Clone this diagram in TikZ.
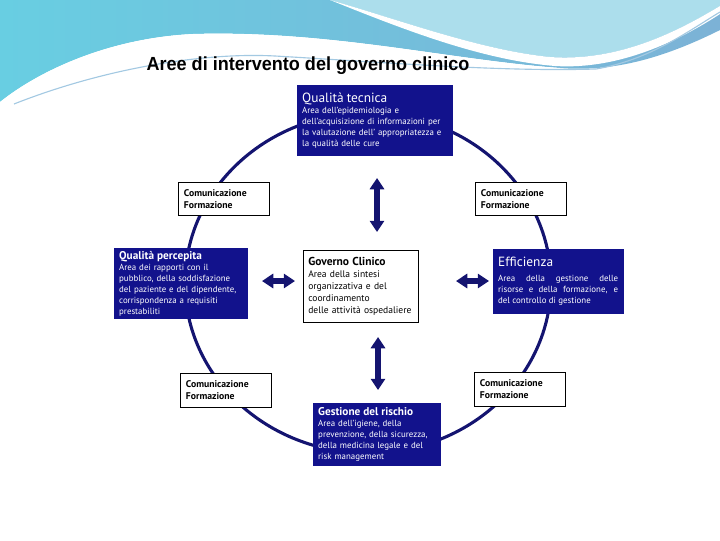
\documentclass[tikz,border=0pt]{standalone}
\usepackage{fontspec}
\setmainfont{PT Sans}
\newfontfamily\headfont{Liberation Sans}
\usetikzlibrary{arrows.meta,calc}
\definecolor{gcnavy}{RGB}{18,18,140}
\definecolor{gcring}{RGB}{20,20,112}
\definecolor{gccyan}{RGB}{104,206,226}
\definecolor{gcsky}{RGB}{124,178,214}
\definecolor{gcpale}{RGB}{172,222,236}
\definecolor{gcmid}{RGB}{140,190,226}

\begin{document}
\begin{tikzpicture}[x=0.025cm,y=-0.025cm,
  area/.style={draw=gcnavy,fill=gcnavy,text=white,anchor=north west,align=left,
               inner xsep=3.5pt,inner ysep=2pt,font=\fontsize{6.3}{7.8}\selectfont},
  core/.style={area,draw=black,fill=white,text=black,line width=0.5pt},
  comm/.style={draw=black,fill=white,anchor=north west,align=left,inner xsep=4pt,
               text width=2.0cm,line width=0.5pt,font=\fontsize{6.9}{8.2}\selectfont\bfseries},
  ring/.style={draw=gcring,line width=2.2pt},
  dbl/.style={<->,>={Triangle[width=10pt,length=8pt]},line width=4.6pt,gcring}
]
  \useasboundingbox (0,0) rectangle (720,540);
  % header waves
  \shade[left color=gccyan,right color=gcsky]
    (0,0) -- (720,0) -- (720,30) .. controls (660,60) and (610,72) .. (560,68)
    .. controls (450,60) and (330,30) .. (193,34) .. controls (110,38) and (40,70) .. (0,102) -- cycle;
  \fill[gcpale] (330,0) .. controls (400,20) and (480,50) .. (550,57)
    .. controls (620,62) and (680,30) .. (720,6) -- (720,0) -- cycle;
  \fill[white] (330,0) .. controls (400,20) and (480,50) .. (550,57)
    .. controls (620,62) and (680,30) .. (720,6) -- (720,14)
    .. controls (680,40) and (620,70) .. (555,66) .. controls (480,60) and (400,28) .. (330,0) -- cycle;
  \fill[white] (0,102) .. controls (40,70) and (110,38) .. (193,34)
    .. controls (330,30) and (450,60) .. (560,68) -- (560,72)
    .. controls (400,66) and (250,50) .. (120,62) .. controls (70,68) and (30,85) .. (0,108) -- cycle;
  \draw[gcsky!70,line width=0.8pt] (14,104) .. controls (100,70) and (200,52) .. (275,56)
    .. controls (380,62) and (500,72) .. (596,69) .. controls (650,60) and (690,30) .. (720,12);
  \node[font=\headfont\fontsize{13.5}{15}\selectfont\bfseries,xscale=0.95,transform shape]
    (title) at (308,66) {Aree di intervento del governo clinico};

  % ring behind the areas
  \draw[ring] (368,283) ellipse [x radius=183, y radius=170];

  \node[area,text width=3.625cm,minimum height=1.75cm] (qt) at (297,85)
    {{\fontsize{9.5}{11}\selectfont Qualità tecnica}\\
     Area dell'epidemiologia e\\ dell'acquisizione di informazioni per\\
     la valutazione dell' appropriatezza e\\ la qualità delle cure};
  \node[area,text width=3.075cm,minimum height=1.725cm] (qp) at (114,248)
    {{\fontsize{8}{10}\selectfont\bfseries Qualità percepita}\\
     Area dei rapporti con il\\ pubblico, della soddisfazione\\
     del paziente e del dipendente,\\ corrispondenza a requisiti\\ prestabiliti};
  \node[core,text width=2.625cm,minimum height=1.8cm,font=\fontsize{6.8}{8.5}\selectfont] (gov) at (303,250)
    {{\fontsize{8.2}{10.5}\selectfont\bfseries Governo Clinico}\\
     Area della sintesi\\ organizzativa e del\\ coordinamento\\ delle attività ospedaliere};
  \node[area,text width=3.0cm,minimum height=1.6cm,align=justify] (eff) at (493,249)
    {{\fontsize{9.5}{12}\selectfont Efficienza}\par\vspace{3pt}
     Area della gestione delle\linebreak risorse e della formazione, e\linebreak
     del controllo di gestione};
  \node[area,text width=2.925cm,minimum height=1.55cm] (gr) at (313,403)
    {{\fontsize{8}{10}\selectfont\bfseries Gestione del rischio}\\
     Area dell'igiene, della\\ prevenzione, della sicurezza,\\
     della medicina legale e del\\ risk management};

  \node[comm,minimum height=0.825cm] (ctl) at (178,182) {Comunicazione\\Formazione};
  \node[comm,minimum height=0.825cm] (ctr) at (475,182) {Comunicazione\\Formazione};
  \node[comm,minimum height=0.85cm] (cbl) at (180,373) {Comunicazione\\Formazione};
  \node[comm,minimum height=0.85cm] (cbr) at (474,372) {Comunicazione\\Formazione};

  % exchange arrows
  \coordinate (up1) at (377,178);
  \coordinate (up2) at (377,232);
  \coordinate (dn1) at (378,337);
  \coordinate (dn2) at (378,390);
  \coordinate (lf1) at (262,281);
  \coordinate (lf2) at (295,281);
  \coordinate (rt1) at (456,281);
  \coordinate (rt2) at (489,281);
  \draw[dbl] (up1) -- (up2);
  \draw[dbl] (dn1) -- (dn2);
  \draw[dbl] (lf1) -- (lf2);
  \draw[dbl] (rt1) -- (rt2);
\end{tikzpicture}
\end{document}
